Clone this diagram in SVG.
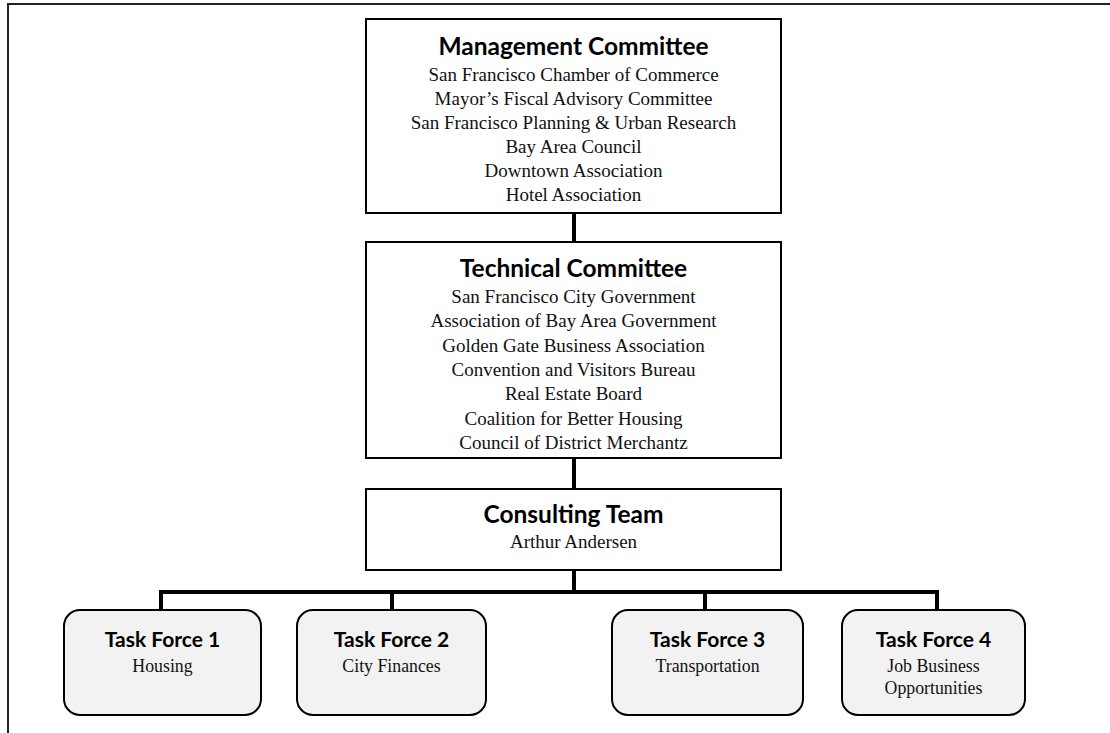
<svg xmlns="http://www.w3.org/2000/svg" width="1110" height="733" viewBox="0 0 1110 733">
<style>
.box{fill:#fff;stroke:#000;stroke-width:2}
.tf{fill:#f2f2f2;stroke:#000;stroke-width:2}
.t{font-family:Lato,"Open Sans",sans-serif;font-weight:bold;font-size:24.5px;text-anchor:middle;fill:#000}
.tt{font-family:Lato,"Open Sans",sans-serif;font-weight:bold;font-size:21px;text-anchor:middle;fill:#000}
.s{font-family:"Liberation Serif",serif;font-size:19px;text-anchor:middle;fill:#111}
.st{font-family:"Liberation Serif",serif;font-size:17.8px;text-anchor:middle;fill:#111}
.c{stroke:#000;stroke-width:4;fill:none}
</style>
<rect width="1110" height="733" fill="#fff"/>
<path d="M8,733 V4 H1110" fill="none" stroke="#222" stroke-width="2"/>
<g id="connectors">
<line class="c" x1="574" y1="213" x2="574" y2="242"/>
<line class="c" x1="574" y1="458" x2="574" y2="489"/>
<line class="c" x1="574" y1="570" x2="574" y2="592"/>
<path class="c" d="M161,610 V592 H937 V610"/>
<line class="c" x1="392" y1="592" x2="392" y2="610"/>
<line class="c" x1="705" y1="592" x2="705" y2="610"/>
</g>
<g id="management">
<rect class="box" x="366" y="19" width="415" height="194"/>
<text class="t" x="573.5" y="55">Management Committee</text>
<text class="s" x="573.5" y="81">San Francisco Chamber of Commerce</text>
<text class="s" x="573.5" y="105">Mayor’s Fiscal Advisory Committee</text>
<text class="s" x="573.5" y="129">San Francisco Planning &amp; Urban Research</text>
<text class="s" x="573.5" y="153">Bay Area Council</text>
<text class="s" x="573.5" y="177">Downtown Association</text>
<text class="s" x="573.5" y="201">Hotel Association</text>
</g>
<g id="technical">
<rect class="box" x="366" y="242" width="415" height="216"/>
<text class="t" x="573.5" y="277">Technical Committee</text>
<text class="s" x="573.5" y="303">San Francisco City Government</text>
<text class="s" x="573.5" y="327">Association of Bay Area Government</text>
<text class="s" x="573.5" y="352">Golden Gate Business Association</text>
<text class="s" x="573.5" y="376">Convention and Visitors Bureau</text>
<text class="s" x="573.5" y="400">Real Estate Board</text>
<text class="s" x="573.5" y="425">Coalition for Better Housing</text>
<text class="s" x="573.5" y="449">Council of District Merchantz</text>
</g>
<g id="consulting">
<rect class="box" x="366" y="489" width="415" height="81"/>
<text class="t" x="573.5" y="523">Consulting Team</text>
<text class="s" x="573.5" y="548">Arthur Andersen</text>
</g>
<g id="tf1">
<rect class="tf" x="64" y="610" width="197" height="105" rx="16"/>
<text class="tt" x="162.5" y="647">Task Force 1</text>
<text class="st" x="162.5" y="672">Housing</text>
</g>
<g id="tf2">
<rect class="tf" x="297" y="610" width="189" height="105" rx="16"/>
<text class="tt" x="391.5" y="647">Task Force 2</text>
<text class="st" x="391.5" y="672">City Finances</text>
</g>
<g id="tf3">
<rect class="tf" x="612" y="610" width="191" height="105" rx="16"/>
<text class="tt" x="707.5" y="647">Task Force 3</text>
<text class="st" x="707.5" y="672">Transportation</text>
</g>
<g id="tf4">
<rect class="tf" x="842" y="610" width="183" height="105" rx="16"/>
<text class="tt" x="933.5" y="647">Task Force 4</text>
<text class="st" x="933.5" y="672">Job Business</text>
<text class="st" x="933.5" y="694">Opportunities</text>
</g>
</svg>
